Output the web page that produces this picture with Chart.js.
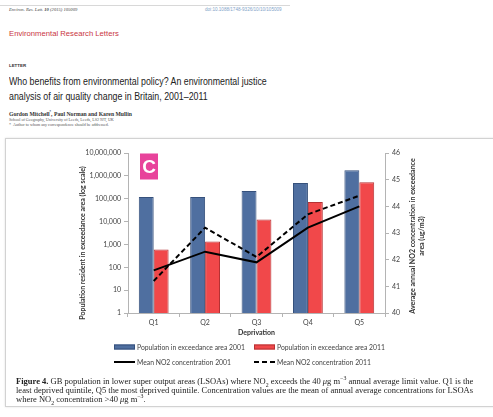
<!DOCTYPE html>
<html>
<head>
<meta charset="utf-8">
<script src="https://cdn.jsdelivr.net/npm/chart.js@4/dist/chart.umd.min.js"></script>
<style>
  html, body { margin: 0; padding: 0; background: #fff; }
  body { width: 493px; height: 417px; overflow: hidden; position: relative; font-family: "Liberation Serif", serif; color: #222; }
  .abs { position: absolute; white-space: nowrap; }
  .rule { left: 0; top: 5px; width: 290px; height: 1px; background: #d8d8d8; }
  .jref { left: 9px; top: 7px; font-size: 4.6px; font-style: italic; color: #444; }
  .doi { left: 205px; top: 7px; font-size: 4.6px; color: #7fa3c8; font-family: "Liberation Sans", sans-serif; }
  .journal { left: 9px; top: 29px; font-size: 7.7px; color: #c9353f; font-family: "Liberation Sans", sans-serif; }
  .kind { left: 9px; top: 63px; font-size: 4.4px; font-weight: bold; color: #333; font-family: "Liberation Sans", sans-serif; }
  .title { left: 9px; top: 74px; font-size: 10.4px; line-height: 15px; color: #222; font-family: "Liberation Sans", sans-serif; transform: scaleX(0.85); transform-origin: 0 0; }
  .authors { left: 9px; top: 110px; font-size: 5.7px; font-weight: bold; color: #333; }
  .affil { left: 9px; top: 117px; font-size: 4.1px; color: #555; }
  .note { left: 9px; top: 122px; font-size: 4.1px; color: #555; }
  .frame { left: 5px; top: 138px; width: 500px; height: 269px; border: 1px solid #d2d2d2; box-shadow: 0 0 2px rgba(0,0,0,0.12); box-sizing: border-box; }
  .chartbox { left: 0; top: 138px; width: 493px; height: 240px; }
  .caption { left: 16px; top: 377px; font-size: 8.5px; line-height: 8.8px; color: #222; }
  .caption sub, .caption sup { font-size: 5.8px; line-height: 0; }
</style>
</head>
<body>
<div class="abs rule"></div>
<div class="abs jref">Environ. Res. Lett. <b>10</b> (2015) 105009</div>
<div class="abs doi">doi:10.1088/1748-9326/10/10/105009</div>
<div class="abs journal">Environmental Research Letters</div>
<div class="abs kind">LETTER</div>
<div class="abs title">Who benefits from environmental policy? An environmental justice<br>analysis of air quality change in Britain, 2001–2011</div>
<div class="abs authors">Gordon Mitchell<sup style="font-size:3px">*</sup>, Paul Norman and Karen Mullin</div>
<div class="abs affil">School of Geography, University of Leeds, Leeds, LS2 9JT, UK</div>
<div class="abs note">*&nbsp;&nbsp;Author to whom any correspondence should be addressed.</div>
<div class="abs frame"></div>
<div class="abs chartbox"><canvas id="chart" width="493" height="240"></canvas></div>
<div class="abs caption"><b>Figure 4.</b> GB population in lower super output areas (LSOAs) where NO<sub>2</sub> exceeds the 40 <i>μ</i>g m<sup>−3</sup> annual average limit value. Q1 is the<br>least deprived quintile, Q5 the most deprived quintile. Concentration values are the mean of annual average concentrations for LSOAs<br>where NO<sub>2</sub> concentration &gt;40 <i>μ</i>g m<sup>−3</sup>.</div>

<script>
// Deprivation quintiles
const categories = ['Q1', 'Q2', 'Q3', 'Q4', 'Q5'];

// Population resident in exceedance area (log scale)
const population2001 = [120000, 120000, 220000, 490000, 1760000];
const population2011 = [600, 1350, 12300, 72500, 525000];

// Average annual NO2 concentration in exceedance area (ug/m3)
const meanNO2_2001 = [41.6, 42.3, 41.9, 43.2, 44.0];
const meanNO2_2011 = [41.2, 43.2, 42.1, 43.7, 44.4];

// Axis ticks
const populationTicks = [1, 10, 100, 1000, 10000, 100000, 1000000, 10000000];
const no2Ticks = [40, 41, 42, 43, 44, 45, 46];

// Text
const seriesLabels = [
  'Population in exceedance area 2001',
  'Population in exceedance area 2011',
  'Mean NO2 concentration 2001',
  'Mean NO2 concentration 2011'
];
const leftTitle = 'Population resident in exceedance area (log scale)';
const rightTitle = ['Average annual NO2 concentration in exceedance', 'area (ug/m3)'];
const xTitle = 'Deprivation';
const panelLetter = 'C';

const textColor = '#444';
const axisColor = '#b4b4b4';
const tickFont = { family: 'Lato, "Liberation Sans", sans-serif', size: 7 };
const titleFont = { family: 'Lato, "Liberation Sans", sans-serif', size: 7, weight: 'bold' };

// Axis titles, panel badge and the two-row legend
const decorations = {
  id: 'decorations',
  afterDraw(chart) {
    const { ctx, chartArea: a } = chart;
    ctx.save();

    // left axis title
    ctx.fillStyle = '#333';
    ctx.font = 'bold 7px Lato, "Liberation Sans", sans-serif';
    ctx.textAlign = 'center';
    ctx.textBaseline = 'middle';
    ctx.save();
    ctx.translate(a.left - 45, (a.top + a.bottom) / 2 + 10);
    ctx.rotate(-Math.PI / 2);
    ctx.fillText(leftTitle, 0, 0);
    ctx.restore();

    // right axis title (two lines, reading upwards)
    ctx.save();
    ctx.translate(a.right + 28, (a.top + a.bottom) / 2 + 3);
    ctx.rotate(-Math.PI / 2);
    rightTitle.forEach((line, i) => ctx.fillText(line, 0, i * 9));
    ctx.restore();

    // panel badge
    const bx = a.left + 12, by = a.top + 0.5, bw = 18, bh = 26;
    ctx.fillStyle = '#e8439b';
    ctx.fillRect(bx, by, bw, bh);
    ctx.fillStyle = '#fff';
    ctx.font = 'bold 19px "Liberation Sans", sans-serif';
    ctx.fillText(panelLetter, bx + bw / 2, by + bh / 2 + 1);

    // legend
    const ds = chart.data.datasets;
    const cols = [a.left - 14, a.left + 126];
    const rows = [a.bottom + 34, a.bottom + 49];
    ctx.font = '6.8px Lato, "Liberation Sans", sans-serif';
    ctx.textAlign = 'left';
    ds.forEach((d, i) => {
      const x = cols[i % 2], y = rows[Math.floor(i / 2)];
      if (d.type === 'bar') {
        ctx.fillStyle = d.backgroundColor;
        ctx.strokeStyle = d.borderColor;
        ctx.lineWidth = 1;
        ctx.fillRect(x, y - 2.5, 21, 5);
        ctx.strokeRect(x + 0.5, y - 2, 20, 4);
      } else {
        ctx.strokeStyle = d.borderColor;
        ctx.lineWidth = 2;
        ctx.setLineDash(d.borderDash || []);
        ctx.beginPath();
        ctx.moveTo(x, y);
        ctx.lineTo(x + 21, y);
        ctx.stroke();
        ctx.setLineDash([]);
      }
      ctx.fillStyle = textColor;
      ctx.fillText(d.label, x + 23, y + 0.5);
    });
    ctx.restore();
  }
};

new Chart(document.getElementById('chart'), {
  data: {
    labels: categories,
    datasets: [
      {
        type: 'bar', label: seriesLabels[0], data: population2001, yAxisID: 'y', order: 1,
        backgroundColor: '#4f6fa0', borderColor: '#36517c', borderWidth: 1,
        categoryPercentage: 0.58, barPercentage: 1
      },
      {
        type: 'bar', label: seriesLabels[1], data: population2011, yAxisID: 'y', order: 1,
        backgroundColor: '#f1484a', borderColor: '#b53234', borderWidth: 1,
        categoryPercentage: 0.58, barPercentage: 1
      },
      {
        type: 'line', label: seriesLabels[2], data: meanNO2_2001, yAxisID: 'y1', order: 0,
        borderColor: '#000', borderWidth: 2, pointRadius: 0, tension: 0, fill: false
      },
      {
        type: 'line', label: seriesLabels[3], data: meanNO2_2011, yAxisID: 'y1', order: 0,
        borderColor: '#000', borderWidth: 2, borderDash: [5, 3], pointRadius: 0, tension: 0, fill: false
      }
    ]
  },
  options: {
    responsive: false,
    animation: false,
    events: [],
    layout: { padding: { left: 0, right: 0, top: 15, bottom: 37 } },
    plugins: { legend: { display: false }, tooltip: { enabled: false } },
    scales: {
      x: {
        type: 'category',
        offset: true,
        grid: { display: true, drawOnChartArea: false, drawTicks: true, tickLength: 4, color: axisColor, offset: true },
        border: { color: axisColor, width: 1 },
        ticks: { color: textColor, font: tickFont, padding: 2, maxRotation: 0 },
        title: { display: true, text: xTitle, color: '#333', font: titleFont, padding: { top: 1, bottom: 4 } },
        afterFit: s => { s.height = 28; }
      },
      y: {
        type: 'logarithmic',
        position: 'left',
        min: populationTicks[0],
        max: populationTicks[populationTicks.length - 1],
        afterBuildTicks: s => { s.ticks = populationTicks.map(v => ({ value: v })); },
        grid: { display: true, drawOnChartArea: false, drawTicks: true, tickLength: 4, color: axisColor },
        border: { color: axisColor, width: 1 },
        ticks: { color: textColor, font: tickFont, padding: 3, callback: v => Number(v).toLocaleString('en-US') },
        afterFit: s => { s.width = 128; }
      },
      y1: {
        type: 'linear',
        position: 'right',
        min: no2Ticks[0],
        max: no2Ticks[no2Ticks.length - 1],
        afterBuildTicks: s => { s.ticks = no2Ticks.map(v => ({ value: v })); },
        grid: { display: true, drawOnChartArea: false, drawTicks: true, tickLength: 4, color: axisColor },
        border: { color: axisColor, width: 1 },
        ticks: { color: textColor, font: tickFont, padding: 3 },
        afterFit: s => { s.width = 108; }
      }
    }
  },
  plugins: [decorations]
});
</script>
</body>
</html>
